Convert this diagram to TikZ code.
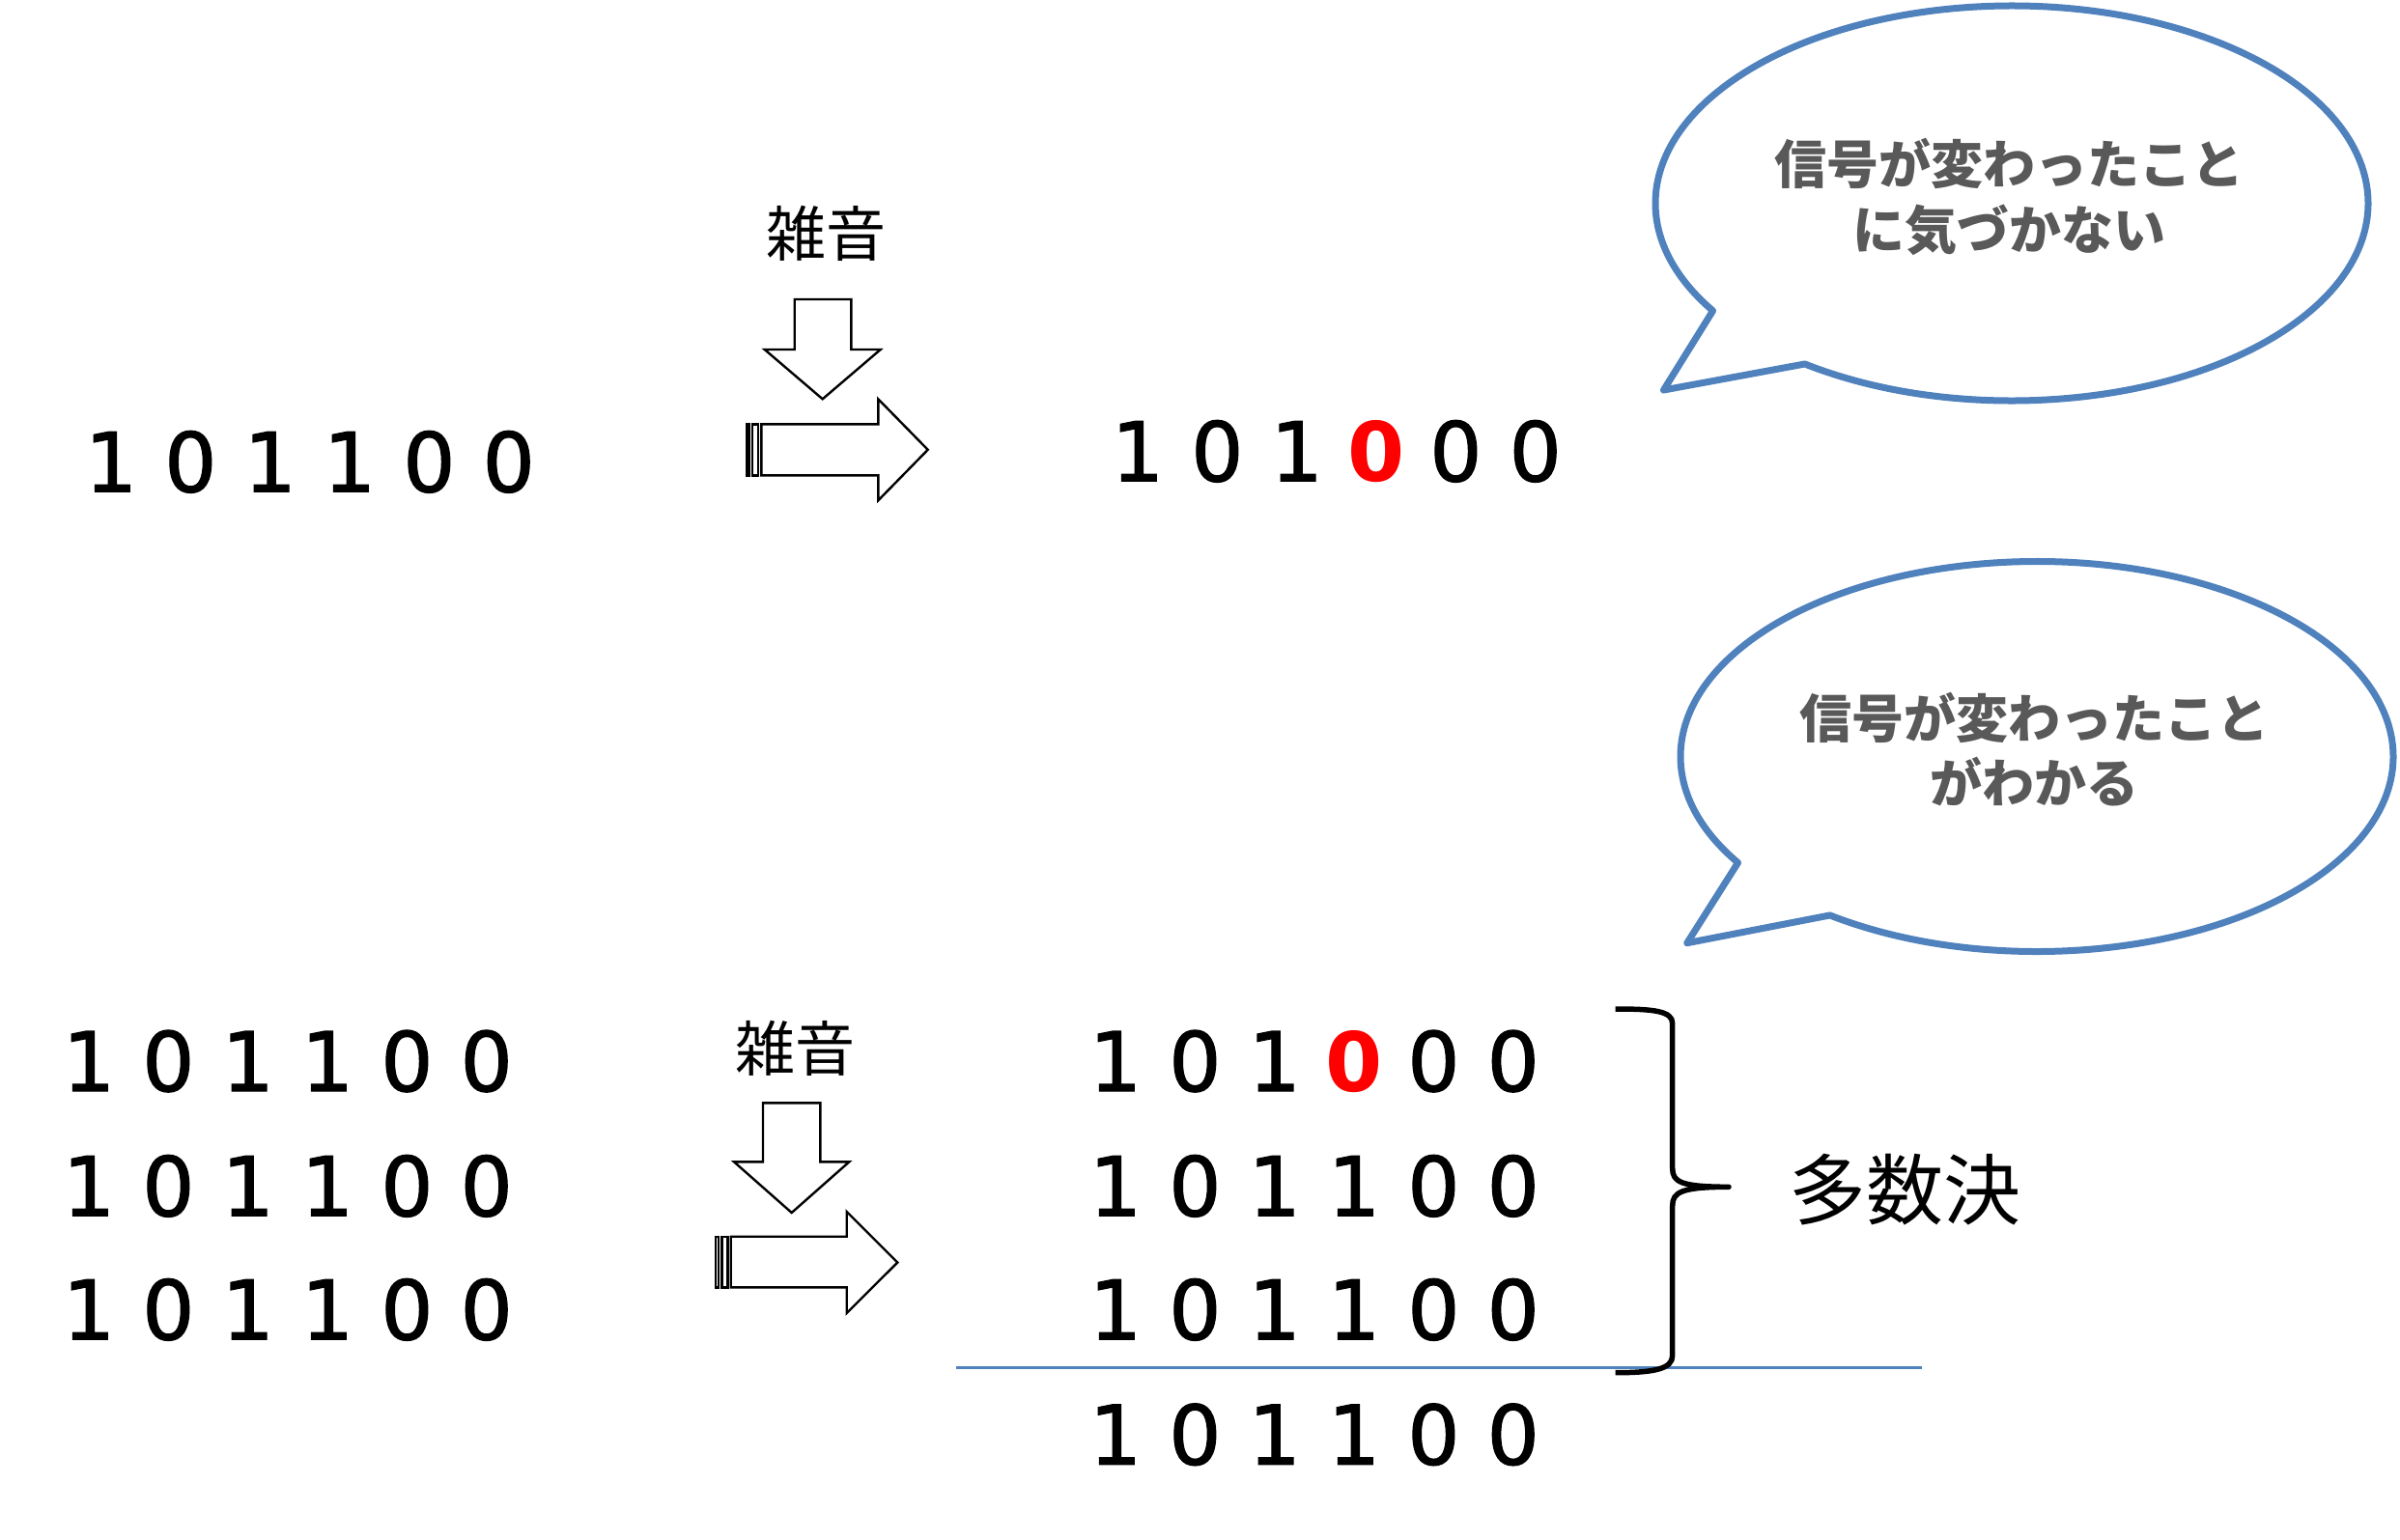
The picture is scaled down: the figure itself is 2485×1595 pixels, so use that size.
\documentclass[tikz,border=0pt]{standalone}
\usepackage{fontspec}
\usetikzlibrary{calc}
\newfontfamily\jpfont{Noto Sans CJK JP}
\newfontfamily\numfont{DejaVu Sans}[UprightFeatures={FakeBold=1.5}]
\definecolor{calloutblue}{RGB}{79,129,189}
\definecolor{calloutgray}{RGB}{89,89,89}
\definecolor{flipred}{RGB}{255,0,0}

\tikzset{
  digit/.style={font=\numfont\fontsize{85}{85}\selectfont, inner sep=0pt, anchor=base},
  blockarrow/.style={draw=black, fill=white, line width=2.4pt, line join=miter},
  callout/.style={draw=calloutblue, fill=white, line width=7pt, line join=round},
  callouttext/.style={font=\jpfont\bfseries\fontsize{54}{67.5}\selectfont,
    text=calloutgray, align=center, inner sep=0pt},
  noise/.style={font=\jpfont\fontsize{62}{62}\selectfont, inner sep=0pt},
  votelabel/.style={font=\jpfont\fontsize{80}{80}\selectfont, inner sep=0pt},
  bracepath/.style={draw=black, line width=5.5pt, line join=round},
  sumrule/.style={draw=calloutblue, line width=3pt},
}

% one row of six bits: name prefix, centre x of first bit, baseline y,
% digits, position of the flipped bit (0 = none)
\newcommand{\bitrow}[5]{%
  \foreach \d [count=\i] in {#4}
    \node[digit] (#1-\i) at ({#2+82.35*(\i-1)},-#3)
      {\ifnum\i=#5\relax\textcolor{flipred}{\bfseries\d}\else\d\fi};
}

\begin{document}
\begin{tikzpicture}[x=1pt,y=1pt]
  \fill[white] (0,0) rectangle (2485,-1595);
  \useasboundingbox (0,0) rectangle (2485,-1595);

  % ---------- single transmission ----------
  \bitrow{sent}{115}{509.3}{1,0,1,1,0,0}{0}
  \bitrow{recv}{1178}{498.3}{1,0,1,0,0,0}{4}

  \node[noise] (noiseA) at (855,-242) {雑音};
  \draw[blockarrow] (822.7,-310) -- (881.3,-310) -- (881.3,-362) -- (911.7,-362)
    -- (851.7,-413.3) -- (791.7,-362) -- (822.7,-362) -- cycle;
  \draw[blockarrow] (772.7,-439.3) rectangle (775.5,-492.3);
  \draw[blockarrow] (778.8,-439.3) rectangle (785,-492.3);
  \draw[blockarrow] (788.3,-439.3) -- (909.3,-439.3) -- (909.3,-413.3)
    -- (960.7,-465.8) -- (909.3,-518.3) -- (909.3,-492.3) -- (788.3,-492.3) -- cycle;

  % speech bubble 1
  \coordinate (c1) at (2083,-210.5);
  \coordinate (c1tip) at (1722.5,-404);
  \draw[callout] ($(c1)+(234.5:369pt and 204.5pt)$)
    arc[start angle=234.5, end angle=573, x radius=369pt, y radius=204.5pt]
    -- (c1tip) -- cycle;
  \node[callouttext] (say1) at (2080,-203.75) {信号が変わったこと\\に気づかない};

  % ---------- triple transmission with majority vote ----------
  \bitrow{sentA}{92}{1130}{1,0,1,1,0,0}{0}
  \bitrow{sentB}{92}{1259.3}{1,0,1,1,0,0}{0}
  \bitrow{sentC}{92}{1387.3}{1,0,1,1,0,0}{0}

  \bitrow{recvA}{1155}{1130}{1,0,1,0,0,0}{4}
  \bitrow{recvB}{1155}{1259.3}{1,0,1,1,0,0}{0}
  \bitrow{recvC}{1155}{1387.3}{1,0,1,1,0,0}{0}
  \bitrow{vote}{1155}{1516.7}{1,0,1,1,0,0}{0}

  \node[noise] (noiseB) at (823.3,-1085.5) {雑音};
  \draw[blockarrow] (790,-1142.3) -- (849.3,-1142.3) -- (849.3,-1203.3) -- (879.3,-1203.3)
    -- (819.7,-1256) -- (760,-1203.3) -- (790,-1203.3) -- cycle;
  \draw[blockarrow] (741,-1280.7) rectangle (744,-1333.3);
  \draw[blockarrow] (747.5,-1280.7) rectangle (753.5,-1333.3);
  \draw[blockarrow] (756.7,-1280.7) -- (876.7,-1280.7) -- (876.7,-1255)
    -- (929.3,-1307.5) -- (876.7,-1360) -- (876.7,-1333.3) -- (756.7,-1333.3) -- cycle;

  % result rule
  \coordinate (ruleL) at (990,-1416);
  \coordinate (ruleR) at (1989.5,-1416);
  \draw[sumrule] (ruleL) -- (ruleR);

  % brace
  \coordinate (braceTop) at (1672.7,-1045);
  \coordinate (braceTip) at (1790,-1229.3);
  \coordinate (braceBot) at (1672.7,-1421.7);
  \draw[bracepath] (braceTop) .. controls (1712,-1045) and (1731.7,-1047) .. (1731.7,-1060)
    -- (1731.7,-1210) .. controls (1731.7,-1224) and (1740,-1229.3) .. (braceTip)
    .. controls (1740,-1229.3) and (1731.7,-1235) .. (1731.7,-1249)
    -- (1731.7,-1404) .. controls (1731.7,-1418) and (1712,-1421.7) .. (braceBot);
  \node[votelabel] (majority) at (1972,-1232) {多数決};

  % speech bubble 2
  \coordinate (c2) at (2109,-783.5);
  \coordinate (c2tip) at (1746.8,-976.7);
  \draw[callout] ($(c2)+(234.5:369pt and 202pt)$)
    arc[start angle=234.5, end angle=573, x radius=369pt, y radius=202pt]
    -- (c2tip) -- cycle;
  \node[callouttext] (say2) at (2106,-776.3) {信号が変わったこと\\がわかる};
\end{tikzpicture}
\end{document}
